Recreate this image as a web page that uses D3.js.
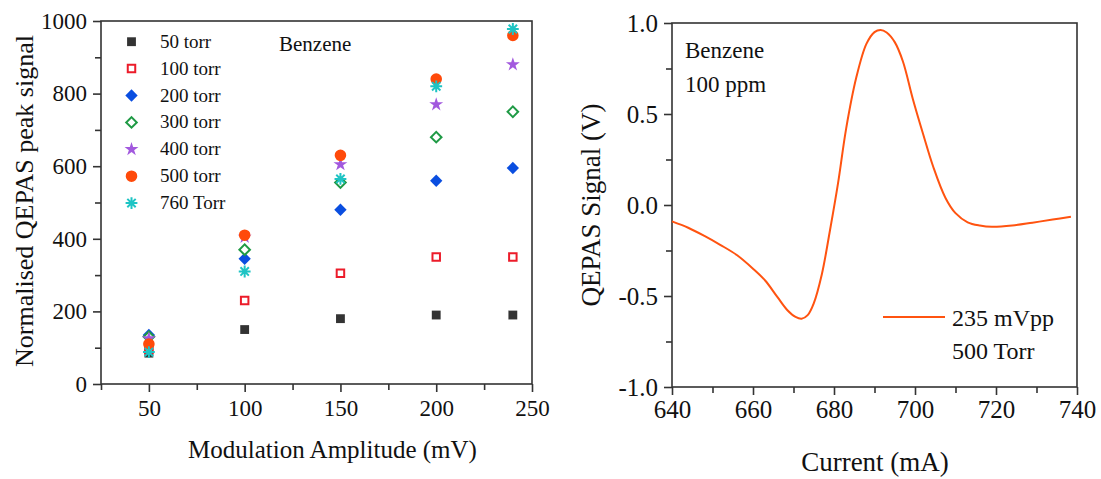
<!DOCTYPE html>
<html>
<head>
<meta charset="utf-8">
<script src="https://cdn.jsdelivr.net/npm/d3@7"></script>
<style>
  body{margin:0;background:white;}
  text{font-family:"Liberation Serif","Times New Roman",serif;fill:#111;}
</style>
</head>
<body>
<script>
//data, left panel (peak signal vs modulation amplitude)
var amplitudes = [50, 100, 150, 200, 240];
var pressureLabels = ["50 torr","100 torr","200 torr","300 torr","400 torr","500 torr","760 Torr"];
var torr50  = [85, 150, 180, 190, 190];
var torr100 = [95, 230, 305, 350, 350];
var torr200 = [135, 345, 480, 560, 595];
var torr300 = [130, 370, 555, 680, 750];
var torr400 = [125, 405, 605, 770, 880];
var torr500 = [110, 410, 630, 840, 960];
var torr760 = [88, 310, 565, 820, 978];

//data, right panel (2f line shape)
var currentMA = [640, 644, 648, 652, 656, 660, 663, 666, 668.5, 670.5, 672, 673.5, 675, 677, 679, 681, 683,
                 685.5, 688, 690, 691.5, 693, 695, 697, 699.5, 702, 704.5, 707.5, 710, 713, 716, 719, 724,
                 729, 734, 738.5];
var signalV = [-0.09, -0.125, -0.17, -0.22, -0.275, -0.35, -0.415, -0.505, -0.578, -0.615, -0.625, -0.605, -0.54,
               -0.38, -0.14, 0.12, 0.42, 0.70, 0.885, 0.95, 0.962, 0.948, 0.895, 0.79, 0.58, 0.39, 0.21, 0.04,
               -0.045, -0.095, -0.113, -0.12, -0.113, -0.097, -0.08, -0.064];

var xTicks1 = [50, 100, 150, 200, 250], xMinor1 = [25, 75, 125, 175, 225];
var yTicks1 = [0, 200, 400, 600, 800, 1000], yMinor1 = [100, 300, 500, 700, 900];
var xTicks2 = [640, 660, 680, 700, 720, 740], xMinor2 = [650, 670, 690, 710, 730];
var yTicks2 = [-1, -0.5, 0, 0.5, 1], yMinor2 = [-0.75, -0.25, 0.25, 0.75];

var seriesValues = [torr50, torr100, torr200, torr300, torr400, torr500, torr760];

//8 spoke asterisk used for the 760 Torr points
var asterisk = {
  draw: function(ctx, size){
    var r = Math.sqrt(size) / 2;
    for(var k = 0; k < 4; k++){
      var a = k * Math.PI / 4;
      ctx.moveTo(-r*Math.cos(a), -r*Math.sin(a));
      ctx.lineTo(r*Math.cos(a), r*Math.sin(a));
    }
  }
};

var markers = [
  {type: d3.symbolSquare,  size: 78,  fill: "#333333", stroke: "none",    rot: 0},
  {type: d3.symbolSquare,  size: 56,  fill: "white",   stroke: "#ec1c2a", rot: 0},
  {type: d3.symbolSquare,  size: 76,  fill: "#0a4ee0", stroke: "none",    rot: 45},
  {type: d3.symbolSquare,  size: 56,  fill: "white",   stroke: "#1f9a45", rot: 45},
  {type: d3.symbolStar,    size: 60,  fill: "#a259de", stroke: "none",    rot: 0},
  {type: d3.symbolCircle,  size: 105, fill: "#ff4a0a", stroke: "none",    rot: 0},
  {type: asterisk,         size: 140, fill: "none",    stroke: "#1ec4c4", rot: 0}
];

var svg = d3.select("body").append("svg")
    .attr("width", 1101)
    .attr("height", 479);

var frameColor = "#333";
var serif = "'Liberation Serif', 'Times New Roman', serif";

//---------- left panel ----------
var x1 = d3.scaleLinear().domain([25, 250]).range([101, 532]),
    y1 = d3.scaleLinear().domain([0, 1000]).range([384, 21]);

var g1 = svg.append("g");

g1.append("g")
  .attr("transform", "translate(0,384)")
  .call(d3.axisBottom(x1).tickValues(xTicks1).tickSize(8).tickPadding(8).tickFormat(d3.format("d")))
  .call(styleAxis, 23);
g1.append("g")
  .attr("transform", "translate(0,384)")
  .call(d3.axisBottom(x1).tickValues(xMinor1).tickSize(6).tickFormat(""))
  .call(styleAxis, 23);
g1.append("g")
  .attr("transform", "translate(101,0)")
  .call(d3.axisLeft(y1).tickValues(yTicks1).tickSize(8).tickPadding(6).tickFormat(d3.format("d")))
  .call(styleAxis, 23);
g1.append("g")
  .attr("transform", "translate(101,0)")
  .call(d3.axisLeft(y1).tickValues(yMinor1).tickSize(6).tickFormat(""))
  .call(styleAxis, 23);

g1.append("rect")
  .attr("x", x1(25)).attr("y", y1(1000))
  .attr("width", x1(250) - x1(25)).attr("height", y1(0) - y1(1000))
  .attr("fill", "none").attr("stroke", frameColor).attr("stroke-width", 1.6);

//points, one group per pressure
seriesValues.forEach(function(vals, i){
  var m = markers[i];
  g1.append("g").selectAll("path")
    .data(vals)
    .enter().append("path")
      .attr("d", d3.symbol().type(m.type).size(m.size))
      .attr("transform", (d, j) => "translate(" + x1(amplitudes[j]) + "," + y1(d) + ") rotate(" + m.rot + ")")
      .attr("fill", m.fill)
      .attr("stroke", m.stroke)
      .attr("stroke-width", 2);
});

//legend
var leg = g1.append("g");
pressureLabels.forEach(function(lbl, i){
  var m = markers[i], yy = 41.7 + i * 26.9;
  leg.append("path")
    .attr("d", d3.symbol().type(m.type).size(m.size))
    .attr("transform", "translate(131.5," + yy + ") rotate(" + m.rot + ")")
    .attr("fill", m.fill).attr("stroke", m.stroke).attr("stroke-width", 2);
  leg.append("text")
    .attr("x", 160).attr("y", yy + 6)
    .style("font-size", "19px")
    .text(lbl);
});

g1.append("text").attr("x", 279).attr("y", 51).style("font-size", "21px").text("Benzene");

g1.append("text")
  .attr("x", (x1(25) + x1(250)) / 2 + 16).attr("y", 458)
  .attr("text-anchor", "middle")
  .style("font-size", "25px")
  .text("Modulation Amplitude (mV)");

g1.append("text")
  .attr("transform", "translate(33,201) rotate(-90)")
  .attr("text-anchor", "middle")
  .style("font-size", "26px")
  .text("Normalised QEPAS peak signal");

//---------- right panel ----------
var x2 = d3.scaleLinear().domain([640, 740]).range([672, 1077]),
    y2 = d3.scaleLinear().domain([-1, 1]).range([387, 23]);

var g2 = svg.append("g");

g2.append("g")
  .attr("transform", "translate(0,387)")
  .call(d3.axisBottom(x2).tickValues(xTicks2).tickSize(8).tickPadding(5))
  .call(styleAxis, 25);
g2.append("g")
  .attr("transform", "translate(0,387)")
  .call(d3.axisBottom(x2).tickValues(xMinor2).tickSize(6).tickFormat(""))
  .call(styleAxis, 25);
g2.append("g")
  .attr("transform", "translate(672,0)")
  .call(d3.axisLeft(y2).tickValues(yTicks2).tickSize(8).tickPadding(6).tickFormat(d => d.toFixed(1)))
  .call(styleAxis, 25);
g2.append("g")
  .attr("transform", "translate(672,0)")
  .call(d3.axisLeft(y2).tickValues(yMinor2).tickSize(6).tickFormat(""))
  .call(styleAxis, 25);

g2.append("rect")
  .attr("x", x2(640)).attr("y", y2(1))
  .attr("width", x2(740) - x2(640)).attr("height", y2(-1) - y2(1))
  .attr("fill", "none").attr("stroke", frameColor).attr("stroke-width", 1.6);

var lineData = currentMA.map((c, i) => [c, signalV[i]]);

g2.append("path")
  .datum(lineData)
  .attr("fill", "none")
  .attr("stroke", "#ff5310")
  .attr("stroke-width", 2)
  .attr("d", d3.line().x(d => x2(d[0])).y(d => y2(d[1])).curve(d3.curveCatmullRom.alpha(0.5)));

g2.append("text").attr("x", 685).attr("y", 58).style("font-size", "23px").text("Benzene");
g2.append("text").attr("x", 685).attr("y", 92).style("font-size", "23px").text("100 ppm");

//legend
g2.append("line")
  .attr("x1", 883).attr("x2", 945).attr("y1", 317).attr("y2", 317)
  .attr("stroke", "#ff5310").attr("stroke-width", 2);
g2.append("text").attr("x", 952).attr("y", 326).style("font-size", "24px").text("235 mVpp");
g2.append("text").attr("x", 952).attr("y", 359).style("font-size", "24px").text("500 Torr");

g2.append("text")
  .attr("x", 875).attr("y", 471)
  .attr("text-anchor", "middle")
  .style("font-size", "27px")
  .text("Current (mA)");

g2.append("text")
  .attr("transform", "translate(600,205) rotate(-90)")
  .attr("text-anchor", "middle")
  .style("font-size", "27px")
  .text("QEPAS Signal (V)");

function styleAxis(sel, fs){
  sel.attr("font-family", serif).attr("font-size", fs);
  sel.select(".domain").remove();
  sel.selectAll("line").attr("stroke", frameColor).attr("stroke-width", 1.6);
  sel.selectAll("text")
     .attr("font-family", serif)
     .attr("font-size", fs)
     .attr("fill", "#111");
}
</script>
</body>
</html>
